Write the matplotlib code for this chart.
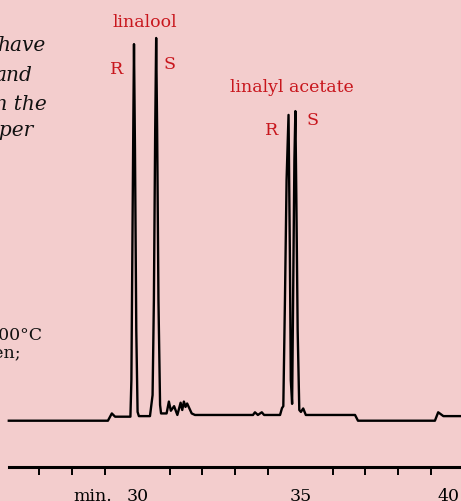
import numpy as np
import matplotlib.pyplot as plt
from matplotlib.ticker import FixedLocator, FixedFormatter

# chromatogram trace (time in min, detector signal, baseline = 0, tallest peak = 100)
time = [26.06, 29.10, 29.22, 29.32, 29.79,
        29.82, 29.85, 29.88, 29.90, 29.93, 29.97, 30.01, 30.05,
        30.39, 30.47, 30.51, 30.55, 30.58, 30.61, 30.65, 30.70, 30.73,
        30.90, 30.97, 31.03, 31.13, 31.23, 31.33, 31.38, 31.43, 31.48, 31.53, 31.67, 31.77,
        33.55, 33.61, 33.70, 33.82, 33.89,
        34.38, 34.44, 34.48, 34.53, 34.58, 34.64, 34.68, 34.71, 34.75,
        34.78, 34.82, 34.85, 34.88, 34.92, 34.97, 35.02, 35.09, 35.17,
        36.68, 36.77, 39.13, 39.23, 39.39, 40.00]
signal = [0.0, 0.0, 1.9, 1.05, 1.05,
          10.6, 44.6, 78.6, 98.4, 70.7, 23.6, 2.3, 1.2,
          1.2, 6.7, 31.5, 75.9, 100.0, 75.9, 31.5, 4.1, 1.9,
          1.9, 5.0, 2.6, 3.8, 1.5, 4.7, 2.8, 5.0, 3.6, 4.5, 1.9, 1.5,
          1.5, 2.2, 1.5, 2.2, 1.5,
          1.5, 3.3, 3.8, 31.5, 62.9, 79.9, 44.6, 10.6, 4.4,
          31.5, 68.1, 80.9, 57.7, 23.6, 2.8, 2.3, 3.2, 1.5,
          1.5, 0.0, 0.0, 2.2, 1.2, 1.2]

minute_ticks = list(range(27, 40))
label_pos = [28.64, 30, 35, 39.56]
label_txt = ['min.', '30', '35', '40']

# peak labels: (text, time, signal)
peak_labels = [('linalool', 30.22, 102.9),
               ('R', 29.38, 90.6),
               ('S', 31.00, 91.9),
               ('linalyl acetate', 34.73, 86.0),
               ('R', 34.13, 74.6),
               ('S', 35.39, 77.3)]

bg = '#f3cdcd'
red = '#c8161d'

plt.rcParams['font.family'] = 'DejaVu Serif'

fig = plt.figure(figsize=(4.61, 5.01), dpi=100, facecolor=bg)
ax = fig.add_axes([0, 0, 1, 1], facecolor=bg)

ax.plot(time, signal, color='black', linewidth=1.7)

for txt, t, s in peak_labels:
    ax.text(t, s, txt, color=red, fontsize=12.5, ha='center', va='baseline')

# cut-off caption text on the left side of the page
for txt, x, y in [('have', 0.0976, 0.898), ('and', 0.0694, 0.839),
                  ('in the', 0.102, 0.780), ('paper', 0.0716, 0.729)]:
    ax.text(x, y, txt, transform=ax.transAxes, fontsize=14.5, style='italic',
            ha='right', va='baseline', color='#111111')
for txt, x, y in [('200°C', 0.0933, 0.321), ('hydrogen;', 0.0456, 0.285)]:
    ax.text(x, y, txt, transform=ax.transAxes, fontsize=12.5,
            ha='right', va='baseline', color='#111111')

ax.set_xlim(25.79, 39.93)
ax.set_ylim(-20.98, 109.93)

for side in ['left', 'right', 'top']:
    ax.spines[side].set_visible(False)
ax.spines['bottom'].set_position(('data', -12.1))
ax.spines['bottom'].set_bounds(26.06, 40.0)
ax.spines['bottom'].set_linewidth(2.2)

ax.xaxis.set_minor_locator(FixedLocator(minute_ticks))
ax.xaxis.set_major_locator(FixedLocator(label_pos))
ax.xaxis.set_major_formatter(FixedFormatter(label_txt))
ax.tick_params(axis='x', which='minor', direction='out', length=5.5, width=1.4)
ax.tick_params(axis='x', which='major', length=0, pad=15, labelsize=12.5)
ax.set_yticks([])

fig.savefig('out.png', dpi=100, facecolor=bg)
